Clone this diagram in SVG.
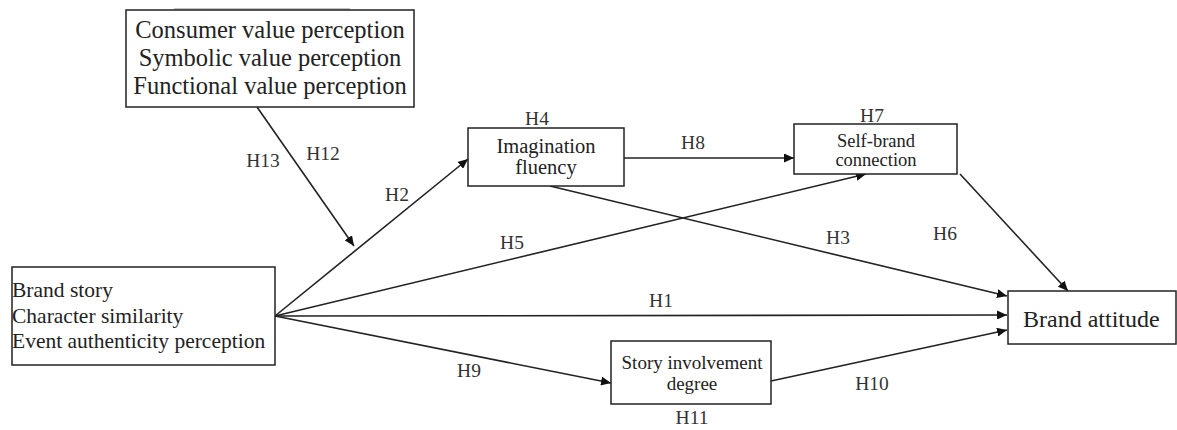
<svg xmlns="http://www.w3.org/2000/svg" width="1177" height="430" viewBox="0 0 1177 430">
<style>
.box{fill:#fff;stroke:#222;stroke-width:1.5}
.t{fill:#222}
.c{text-anchor:middle}
.lbl{fill:#333;font-size:19.5px;text-anchor:middle}
.ln{fill:none;stroke:#222;stroke-width:1.6;marker-end:url(#ah)}
</style>
<defs>
<marker id="ah" markerUnits="userSpaceOnUse" markerWidth="11" markerHeight="9" refX="10" refY="4.5" orient="auto" viewBox="0 0 11 9">
<path d="M0,0 L10,4.5 L0,9 z" fill="#111"/>
</marker>
</defs>
<rect width="1177" height="430" fill="#fff"/>
<line x1="174" y1="9" x2="350" y2="9" stroke="#888" stroke-width="1"/>
<g id="connectors">
<path class="ln" d="M257,107 L354,246"/>
<path class="ln" d="M275,316 L468,159"/>
<path class="ln" d="M275,316 L866,174"/>
<path class="ln" d="M275,316 L1007,315"/>
<path class="ln" d="M275,316 L611,383"/>
<path class="ln" d="M624,158 L794,158"/>
<path class="ln" d="M550,186 L1007,296"/>
<path class="ln" d="M960,174 L1068,291"/>
<path class="ln" d="M771,381 L1007,330"/>
</g>
<g font-family="Liberation Serif, DejaVu Serif, serif">
<g id="labels">
<text class="lbl" x="263" y="167">H13</text>
<text class="lbl" x="323" y="160">H12</text>
<text class="lbl" x="397" y="201">H2</text>
<text class="lbl" x="537" y="125">H4</text>
<text class="lbl" x="693" y="149">H8</text>
<text class="lbl" x="872" y="122">H7</text>
<text class="lbl" x="512" y="249">H5</text>
<text class="lbl" x="838" y="244">H3</text>
<text class="lbl" x="945" y="240">H6</text>
<text class="lbl" x="661" y="307">H1</text>
<text class="lbl" x="469" y="377">H9</text>
<text class="lbl" x="872" y="390">H10</text>
<text class="lbl" x="692" y="424">H11</text>
</g>
<g id="node-value">
<rect class="box" x="126" y="10" width="288" height="97"/>
<text class="t c" x="270" y="38" font-size="24.5">Consumer value perception</text>
<text class="t c" x="270" y="66" font-size="24.5">Symbolic value perception</text>
<text class="t c" x="270" y="94" font-size="24.5">Functional value perception</text>
</g>
<g id="node-brandstory">
<rect class="box" x="12" y="267" width="263" height="98"/>
<text class="t" x="12" y="297" font-size="21.5">Brand story</text>
<text class="t" x="12" y="323" font-size="21.5">Character similarity</text>
<text class="t" x="12" y="348" font-size="21.5">Event authenticity perception</text>
</g>
<g id="node-imagination">
<rect class="box" x="468" y="128" width="156" height="58"/>
<text class="t c" x="546" y="153" font-size="20.5">Imagination</text>
<text class="t c" x="546" y="174" font-size="20.5">fluency</text>
</g>
<g id="node-selfbrand">
<rect class="box" x="794" y="124" width="163" height="50"/>
<text class="t c" x="876" y="147" font-size="18.5">Self-brand</text>
<text class="t c" x="876" y="166" font-size="18.5">connection</text>
</g>
<g id="node-involvement">
<rect class="box" x="611" y="341" width="160" height="63"/>
<text class="t c" x="692" y="369" font-size="19">Story involvement</text>
<text class="t c" x="692" y="390" font-size="19">degree</text>
</g>
<g id="node-attitude">
<rect class="box" x="1008" y="291" width="168" height="53"/>
<text class="t" x="1023" y="327" font-size="24">Brand attitude</text>
</g>
</g>
</svg>
